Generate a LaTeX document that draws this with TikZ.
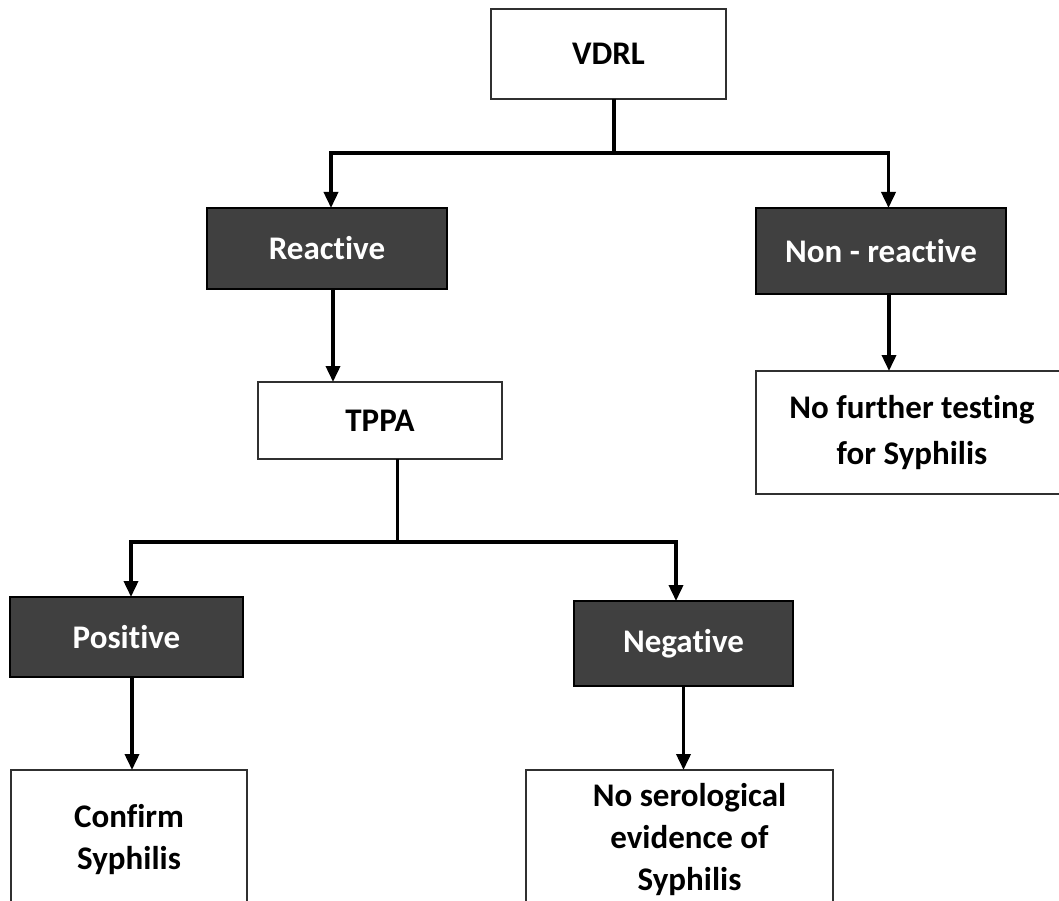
\documentclass[tikz,border=0pt]{standalone}
\usepackage{fontspec}
\setmainfont[Ligatures=NoCommon]{Carlito}
\usetikzlibrary{arrows.meta,calc}

\definecolor{boxdark}{HTML}{404040}
\definecolor{edgegray}{HTML}{303030}

\tikzset{
  lightbox/.style={draw=edgegray, line width=1.3pt, fill=white, inner sep=0pt, outer sep=0pt,
    align=center, font=\fontsize{33}{42}\selectfont\bfseries, text=black},
  darkbox/.style={draw=black, line width=1.6pt, fill=boxdark, inner sep=0pt, outer sep=0pt,
    align=center, font=\fontsize{33}{42}\selectfont\bfseries, text=white},
  link/.style={draw=black, line width=3.6pt},
  arr/.style={link, -{Triangle[length=16pt,width=14pt]}},
}

\begin{document}
\begin{tikzpicture}[x=1pt, y=-1pt]
  \useasboundingbox (0,0) rectangle (1059,901);
  \clip (0,0) rectangle (1059,901);
  \fill[white] (0,0) rectangle (1059,901);

  % boxes
  \node[lightbox, minimum width=235pt, minimum height=90pt] (vdrl) at (608.5,54) {VDRL};
  \node[darkbox, minimum width=240pt, minimum height=81pt] (react) at (327,248.5) {Reactive};
  \node[darkbox, minimum width=250pt, minimum height=86pt] (nonreact) at (881,251) {Non - reactive};
  \node[lightbox, minimum width=244pt, minimum height=77pt] (tppa) at (380,420.5) {TPPA};
  \node[lightbox, minimum width=312pt, minimum height=123pt,
        font=\fontsize{33}{46}\selectfont\bfseries] (nofurther) at (912,432.5)
        {No further testing\\for Syphilis};
  \node[darkbox, minimum width=233pt, minimum height=80pt] (pos) at (126.5,637) {Positive};
  \node[darkbox, minimum width=219pt, minimum height=85pt] (neg) at (683.5,643.5) {Negative};
  \node[lightbox, minimum width=236pt, minimum height=140pt] (confirm) at (129,840)
        {Confirm\\Syphilis};
  \node[lightbox, minimum width=307pt, minimum height=140pt] (noser) at (679.5,840)
        {\hspace*{20pt}No serological\\\hspace*{20pt}evidence of\\\hspace*{20pt}Syphilis};

  % VDRL splits into reactive / non-reactive
  \coordinate (v0) at ([xshift=5.5pt]vdrl.south);
  \coordinate (vj) at ($(v0)+(0,54)$);
  \coordinate (vl) at ([xshift=4pt]react.north);
  \coordinate (vr) at ([xshift=7.5pt]nonreact.north);
  \draw[link] (v0) -- (vj);
  \draw[arr] (vj) -| (vl);
  \draw[arr] (vj) -| (vr);

  % reactive -> TPPA
  \coordinate (r0) at ([xshift=6pt]react.south);
  \draw[arr] (r0) -- (r0 |- tppa.north);

  % non-reactive -> no further testing
  \coordinate (n0) at ([xshift=8pt]nonreact.south);
  \draw[arr] (n0) -- (n0 |- nofurther.north);

  % TPPA splits into positive / negative
  \coordinate (t0) at ([xshift=17.5pt]tppa.south);
  \coordinate (tj) at ($(t0)+(0,83)$);
  \coordinate (tl) at ([xshift=4.5pt]pos.north);
  \coordinate (tr) at ([xshift=-7.5pt]neg.north);
  \draw[link] (t0) -- (tj);
  \draw[arr] (tj) -| (tl);
  \draw[arr] (tj) -| (tr);

  % results
  \coordinate (p0) at ([xshift=5.5pt]pos.south);
  \draw[arr] (p0) -- (p0 |- confirm.north);
  \coordinate (g0) at (neg.south);
  \draw[arr] (g0) -- (g0 |- noser.north);
\end{tikzpicture}
\end{document}
